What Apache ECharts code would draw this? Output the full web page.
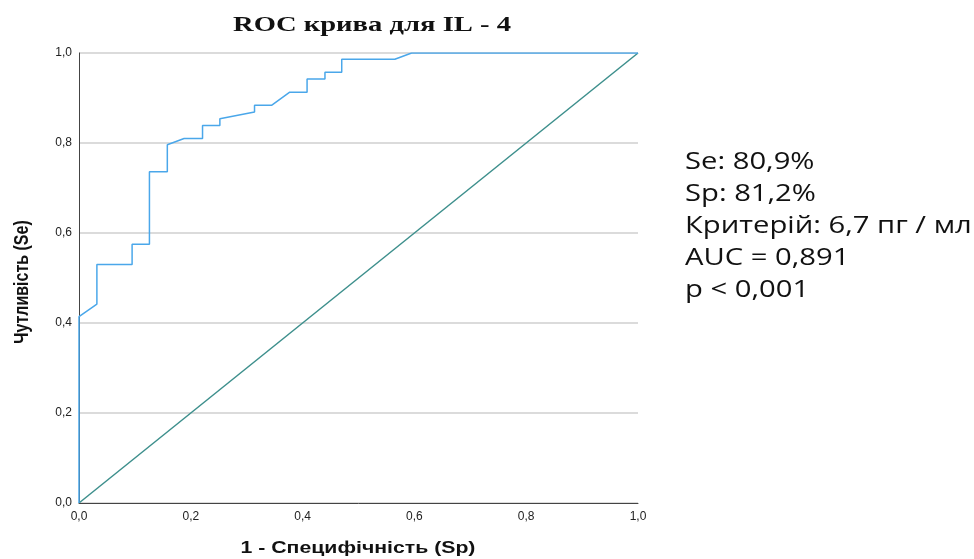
<!DOCTYPE html>
<html>
<head>
<meta charset="UTF-8">
<title>ROC</title>
<script src="https://cdn.jsdelivr.net/npm/echarts@6/dist/echarts.min.js"></script>
<style>
  html, body { margin: 0; padding: 0; background: #fff; }
</style>
</head>
<body>
<div id="main" style="width: 974px;height:559px;"></div>
<script type="text/javascript">
// ROC curve points: 1 - Sp (x) and Se (y)
var rocX = [0, 0, 0.032, 0.032, 0.095, 0.095, 0.126, 0.126, 0.158, 0.158, 0.188, 0.221, 0.221, 0.252, 0.252, 0.314, 0.314, 0.345, 0.377, 0.408, 0.408, 0.440, 0.440, 0.470, 0.470, 0.565, 0.595, 1.0];
var rocY = [0, 0.414, 0.442, 0.530, 0.530, 0.575, 0.575, 0.736, 0.736, 0.796, 0.810, 0.810, 0.839, 0.839, 0.854, 0.869, 0.884, 0.884, 0.913, 0.913, 0.942, 0.942, 0.957, 0.957, 0.986, 0.986, 1.0, 1.0];
// reference diagonal
var refX = [0, 1];
var refY = [0, 1];
var tickStep = 0.2;
var titleText = 'ROC крива для IL - 4';
var xName = '1 - Специфічність (Sp)';
var yName = 'Чутливість (Se)';
var infoLines = ['Se: 80,9%', 'Sp: 81,2%', 'Критерій: 6,7 пг / мл', 'AUC = 0,891', 'p < 0,001'];

function pairs(xs, ys) {
    var out = [];
    for (var i = 0; i < xs.length; i++) {
        out.push([xs[i], ys[i]]);
    }
    return out;
}
function fmt(v) {
    return v.toFixed(1).replace('.', ',');
}

var myChart = echarts.init(document.getElementById('main'));

// the source picture is stretched sideways, so texts get a scaleX
var option = {
    backgroundColor: '#fff',
    animation: false,
    graphic: [{
        type: 'text',
        x: 372,
        y: 25,
        scaleX: 1.3,
        style: {
            text: titleText,
            fontFamily: '"Liberation Serif", "DejaVu Serif", serif',
            fontWeight: 'bold',
            fontSize: 22,
            fill: '#111',
            align: 'center',
            verticalAlign: 'middle'
        }
    }, {
        type: 'text',
        x: 358,
        y: 548,
        scaleX: 1.25,
        style: {
            text: xName,
            fontFamily: '"Liberation Sans", Arial, sans-serif',
            fontWeight: 'bold',
            fontSize: 17,
            fill: '#111',
            align: 'center',
            verticalAlign: 'middle'
        }
    }, {
        type: 'text',
        x: 22,
        y: 282,
        rotation: Math.PI / 2,
        scaleY: 1.25,
        style: {
            text: yName,
            fontFamily: '"Liberation Sans", Arial, sans-serif',
            fontWeight: 'bold',
            fontSize: 16,
            fill: '#111',
            align: 'center',
            verticalAlign: 'middle'
        }
    }, {
        type: 'text',
        x: 685,
        y: 146,
        scaleX: 1.27,
        style: {
            text: infoLines.join('\n'),
            fontFamily: '"Open Sans", sans-serif',
            fontSize: 23,
            lineHeight: 32,
            fill: '#111'
        }
    }],
    grid: {
        left: 79,
        right: 336,
        top: 53,
        bottom: 56,
        containLabel: false,
        outerBoundsMode: 'none'
    },
    xAxis: {
        type: 'value',
        min: 0,
        max: 1,
        interval: tickStep,
        axisLine: { show: true, lineStyle: { color: '#444', width: 1 } },
        axisTick: { show: false },
        axisLabel: {
            formatter: fmt,
            fontFamily: '"Liberation Sans", Arial, sans-serif',
            fontSize: 12,
            color: '#222',
            margin: 8
        },
        splitLine: { show: false }
    },
    yAxis: {
        type: 'value',
        min: 0,
        max: 1,
        interval: tickStep,
        axisLine: { show: true, lineStyle: { color: '#444', width: 1 } },
        axisTick: { show: false },
        axisLabel: {
            formatter: fmt,
            fontFamily: '"Liberation Sans", Arial, sans-serif',
            fontSize: 12,
            color: '#222',
            margin: 7
        },
        splitLine: { show: true, lineStyle: { color: '#cfcfcf', width: 1.5 } }
    },
    series: [{
        name: 'reference',
        type: 'line',
        data: pairs(refX, refY),
        showSymbol: false,
        lineStyle: { color: '#3d8f8c', width: 1.5 },
        z: 2
    }, {
        name: 'ROC',
        type: 'line',
        data: pairs(rocX, rocY),
        showSymbol: false,
        lineStyle: { color: '#4aa7ea', width: 1.5 },
        z: 3
    }]
};
myChart.setOption(option);
</script>
</body>
</html>
